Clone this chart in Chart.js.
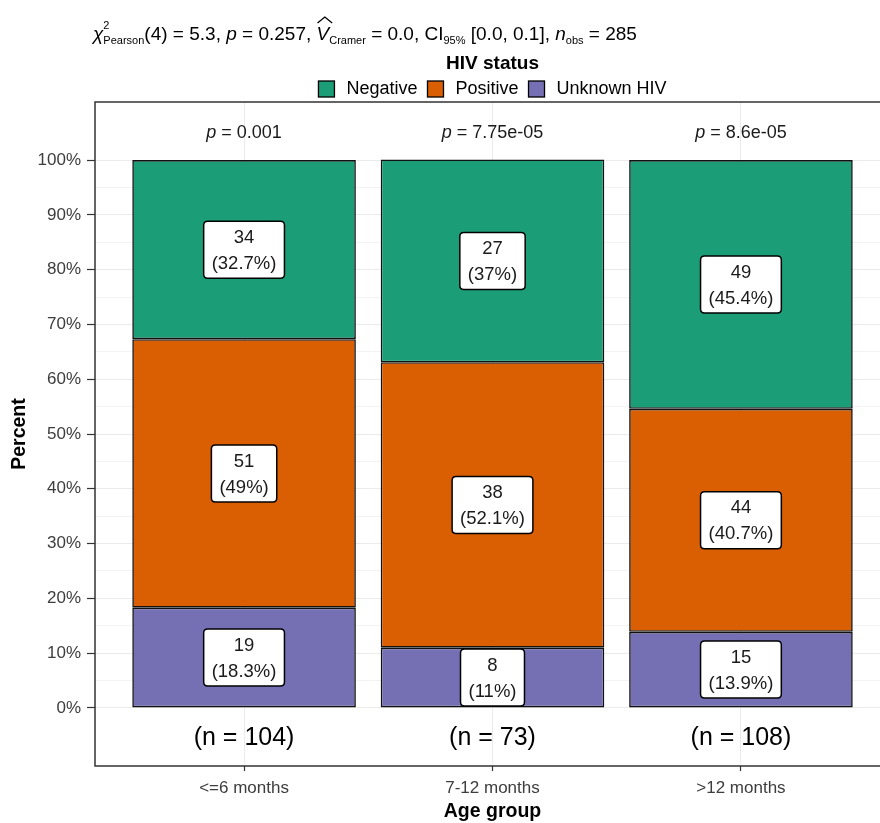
<!DOCTYPE html>
<html><head><meta charset="utf-8">
<script src="https://cdn.jsdelivr.net/npm/chart.js@4.4.1/dist/chart.umd.min.js"></script>
<style>
html,body{margin:0;padding:0;background:#fff;overflow:hidden;}
#wrap{width:892px;height:823px;position:relative;}
</style></head><body>
<div id="wrap"><canvas id="c"></canvas></div>
<script>
// ---------- data ----------
const categories = ['<=6 months', '7-12 months', '>12 months'];
const groupN = [104, 73, 108];
const pValues = ['0.001', '7.75e-05', '8.6e-05'];
const countsNegative = [34, 27, 49];
const countsPositive = [51, 38, 44];
const countsUnknown = [19, 8, 15];
const pctNegative = [32.7, 37, 45.4];
const pctPositive = [49, 52.1, 40.7];
const pctUnknown = [18.3, 11, 13.9];
const yTickValues = [0, 0.1, 0.2, 0.3, 0.4, 0.5, 0.6, 0.7, 0.8, 0.9, 1.0];
const yTickLabels = ['0%', '10%', '20%', '30%', '40%', '50%', '60%', '70%', '80%', '90%', '100%'];
const yGridValues = [0, 0.05, 0.1, 0.15, 0.2, 0.25, 0.3, 0.35, 0.4, 0.45, 0.5, 0.55, 0.6, 0.65, 0.7, 0.75, 0.8, 0.85, 0.9, 0.95, 1.0];
const xTickValues = [1, 2, 3];

const FONT = "'Liberation Sans', Arial, Helvetica, sans-serif";
const COL = { neg: '#1B9E77', pos: '#D95F02', unk: '#7570B3' };
const TICKCOL = '#3d3d3d';

function mk(pcts) { return pcts.map((p, i) => ({ x: xTickValues[i], y: p / 100 })); }

const datasets = [
  { label: 'Unknown HIV', data: mk(pctUnknown), counts: countsUnknown, pcts: pctUnknown, backgroundColor: COL.unk },
  { label: 'Positive', data: mk(pctPositive), counts: countsPositive, pcts: pctPositive, backgroundColor: COL.pos },
  { label: 'Negative', data: mk(pctNegative), counts: countsNegative, pcts: pctNegative, backgroundColor: COL.neg }
].map(d => Object.assign(d, { borderColor: '#111', borderWidth: 1.6, borderSkipped: false, barPercentage: 0.9, categoryPercentage: 1.0 }));

const legendOrder = ['Negative', 'Positive', 'Unknown HIV'];

function isMajor(v) { return yTickValues.some(t => Math.abs(t - v) < 1e-9); }

function roundRect(ctx, x, y, w, h, r) {
  ctx.beginPath();
  ctx.moveTo(x + r, y);
  ctx.lineTo(x + w - r, y); ctx.quadraticCurveTo(x + w, y, x + w, y + r);
  ctx.lineTo(x + w, y + h - r); ctx.quadraticCurveTo(x + w, y + h, x + w - r, y + h);
  ctx.lineTo(x + r, y + h); ctx.quadraticCurveTo(x, y + h, x, y + h - r);
  ctx.lineTo(x, y + r); ctx.quadraticCurveTo(x, y, x + r, y);
  ctx.closePath();
}

function drawRich(ctx, parts, x0, base) {
  let x = x0;
  ctx.textBaseline = 'alphabetic';
  ctx.textAlign = 'left';
  parts.forEach(p => {
    if (p.stack) {
      let w = 0;
      p.stack.forEach(s => {
        ctx.font = `${s.italic ? 'italic ' : ''}${s.size}px ${FONT}`;
        ctx.fillText(s.t, x, base + s.dy);
        w = Math.max(w, ctx.measureText(s.t).width);
      });
      x += w;
      return;
    }
    ctx.font = `${p.italic ? 'italic ' : ''}${p.size}px ${FONT}`;
    const w = ctx.measureText(p.t).width;
    ctx.fillText(p.t, x, base);
    if (p.hat) {
      ctx.save();
      ctx.strokeStyle = ctx.fillStyle; ctx.lineWidth = 1.3;
      ctx.beginPath();
      ctx.moveTo(x + 1, base - 17);
      ctx.lineTo(x + w / 2 + 2, base - 23);
      ctx.lineTo(x + w + 3, base - 17);
      ctx.stroke();
      ctx.restore();
    }
    x += w;
  });
  return x - x0;
}

const annot = {
  id: 'annot',
  afterDatasetsDraw(chart) {
    const ctx = chart.ctx;
    ctx.save();
    chart.data.datasets.forEach((ds, di) => {
      const meta = chart.getDatasetMeta(di);
      meta.data.forEach((el, i) => {
        const cx = el.x;
        const cy = (el.y + el.base) / 2;
        const l1 = String(ds.counts[i]);
        const l2 = '(' + ds.pcts[i] + '%)';
        ctx.font = `18.5px ${FONT}`;
        const tw = Math.max(ctx.measureText(l1).width, ctx.measureText(l2).width);
        const bw = tw + 16, bh = 57;
        roundRect(ctx, cx - bw / 2, cy - bh / 2, bw, bh, 4);
        ctx.fillStyle = '#fff'; ctx.fill();
        ctx.strokeStyle = '#000'; ctx.lineWidth = 1.5; ctx.stroke();
        ctx.fillStyle = '#1a1a1a';
        ctx.textAlign = 'center'; ctx.textBaseline = 'middle';
        ctx.fillText(l1, cx, cy - 12);
        ctx.fillText(l2, cx, cy + 14);
      });
    });
    ctx.restore();
  },
  afterDraw(chart) {
    const { ctx, chartArea: ca, scales: { x, y } } = chart;
    ctx.save();
    // panel border
    ctx.strokeStyle = '#333'; ctx.lineWidth = 1.5;
    ctx.strokeRect(ca.left, ca.top, ca.right - ca.left, ca.bottom - ca.top);

    // subtitle (statistics)
    ctx.fillStyle = '#000';
    const S = 19, s = 11;
    drawRich(ctx, [
      { t: 'χ', italic: true, size: S },
      { stack: [{ t: '2', size: s, dy: -11 }, { t: 'Pearson', size: s, dy: 4 }] },
      { t: '(4) = 5.3, ', size: S },
      { t: 'p', italic: true, size: S },
      { t: ' = 0.257, ', size: S },
      { t: 'V', italic: true, size: S, hat: true },
      { stack: [{ t: 'Cramer', size: s, dy: 4 }] },
      { t: ' = 0.0, CI', size: S },
      { stack: [{ t: '95%', size: s, dy: 4 }] },
      { t: ' [0.0, 0.1], ', size: S },
      { t: 'n', italic: true, size: S },
      { stack: [{ t: 'obs', size: s, dy: 4 }] },
      { t: ' = 285', size: S }
    ], 93, 40);

    // legend
    const lcx = (ca.left + ca.right) / 2;
    ctx.font = `bold 19px ${FONT}`;
    ctx.textAlign = 'center'; ctx.textBaseline = 'middle';
    ctx.fillStyle = '#000';
    ctx.fillText('HIV status', lcx, 64);
    ctx.font = `18px ${FONT}`;
    const key = 16, gapT = 12, gapI = 10;
    const items = legendOrder.map(n => chart.data.datasets.find(d => d.label === n));
    let total = 0;
    items.forEach((d, i) => { total += key + gapT + ctx.measureText(d.label).width + (i < items.length - 1 ? gapI : 0); });
    let lx = lcx - total / 2;
    const ly = 89;
    items.forEach(d => {
      ctx.fillStyle = d.backgroundColor;
      ctx.fillRect(lx, ly - key / 2, key, key);
      ctx.strokeStyle = '#000'; ctx.lineWidth = 1.3;
      ctx.strokeRect(lx, ly - key / 2, key, key);
      lx += key + gapT;
      ctx.fillStyle = '#000'; ctx.textAlign = 'left';
      ctx.fillText(d.label, lx, ly);
      lx += ctx.measureText(d.label).width + gapI;
    });

    // p-value labels and n labels
    xTickValues.forEach((v, i) => {
      const cx = x.getPixelForValue(v);
      const py = y.getPixelForValue(1.05);
      ctx.fillStyle = '#1a1a1a';
      ctx.textBaseline = 'middle'; ctx.textAlign = 'left';
      ctx.font = `italic 18px ${FONT}`;
      const w1 = ctx.measureText('p').width;
      ctx.font = `18px ${FONT}`;
      const rest = ' = ' + pValues[i];
      const w2 = ctx.measureText(rest).width;
      const sx = cx - (w1 + w2) / 2;
      ctx.font = `italic 18px ${FONT}`;
      ctx.fillText('p', sx, py);
      ctx.font = `18px ${FONT}`;
      ctx.fillText(rest, sx + w1, py);

      ctx.textAlign = 'center';
      ctx.font = `25px ${FONT}`;
      ctx.fillStyle = '#000';
      ctx.fillText('(n = ' + groupN[i] + ')', cx, y.getPixelForValue(-0.056));
    });
    ctx.restore();
  }
};

new Chart(document.getElementById('c'), {
  type: 'bar',
  data: { datasets },
  plugins: [annot],
  options: {
    responsive: true,
    maintainAspectRatio: false,
    animation: false,
    layout: { padding: { top: 102, left: 0, right: 2, bottom: 0 } },
    plugins: { legend: { display: false }, tooltip: { enabled: false } },
    scales: {
      x: {
        type: 'linear', stacked: true, min: 0.4, max: 3.6, offset: false,
        afterBuildTicks: sc => { sc.ticks = xTickValues.map(v => ({ value: v })); },
        ticks: {
          callback: v => categories[xTickValues.indexOf(v)],
          font: { family: FONT, size: 17 }, color: TICKCOL, padding: 7,
          autoSkip: false, maxRotation: 0
        },
        grid: { offset: false, color: '#ebebeb', lineWidth: 1, tickLength: 5, tickColor: '#333', tickWidth: 1.2 },
        border: { display: false },
        title: { display: true, text: 'Age group', font: { family: FONT, size: 19.5, weight: 'bold' }, color: '#000', padding: { top: 0, bottom: 0 } },
        afterFit: sc => { sc.height = 57; }
      },
      y: {
        type: 'linear', stacked: true, min: -0.106, max: 1.106,
        afterBuildTicks: sc => { sc.ticks = yGridValues.map(v => ({ value: v })); },
        ticks: {
          callback: v => { const i = yTickValues.findIndex(t => Math.abs(t - v) < 1e-9); return i >= 0 ? yTickLabels[i] : ''; },
          font: { family: FONT, size: 17 }, color: TICKCOL, padding: 6, autoSkip: false
        },
        grid: {
          color: '#ebebeb',
          lineWidth: c => (c.tick && isMajor(c.tick.value)) ? 1 : 0.6,
          tickLength: 8,
          tickColor: c => (c.tick && isMajor(c.tick.value)) ? '#333' : 'rgba(0,0,0,0)',
          tickWidth: 1.2
        },
        border: { display: false },
        title: { display: true, text: 'Percent', font: { family: FONT, size: 19.5, weight: 'bold' }, color: '#000', padding: { top: 8 } },
        afterFit: sc => { sc.width = 95; }
      }
    }
  }
});
</script>
</body></html>
